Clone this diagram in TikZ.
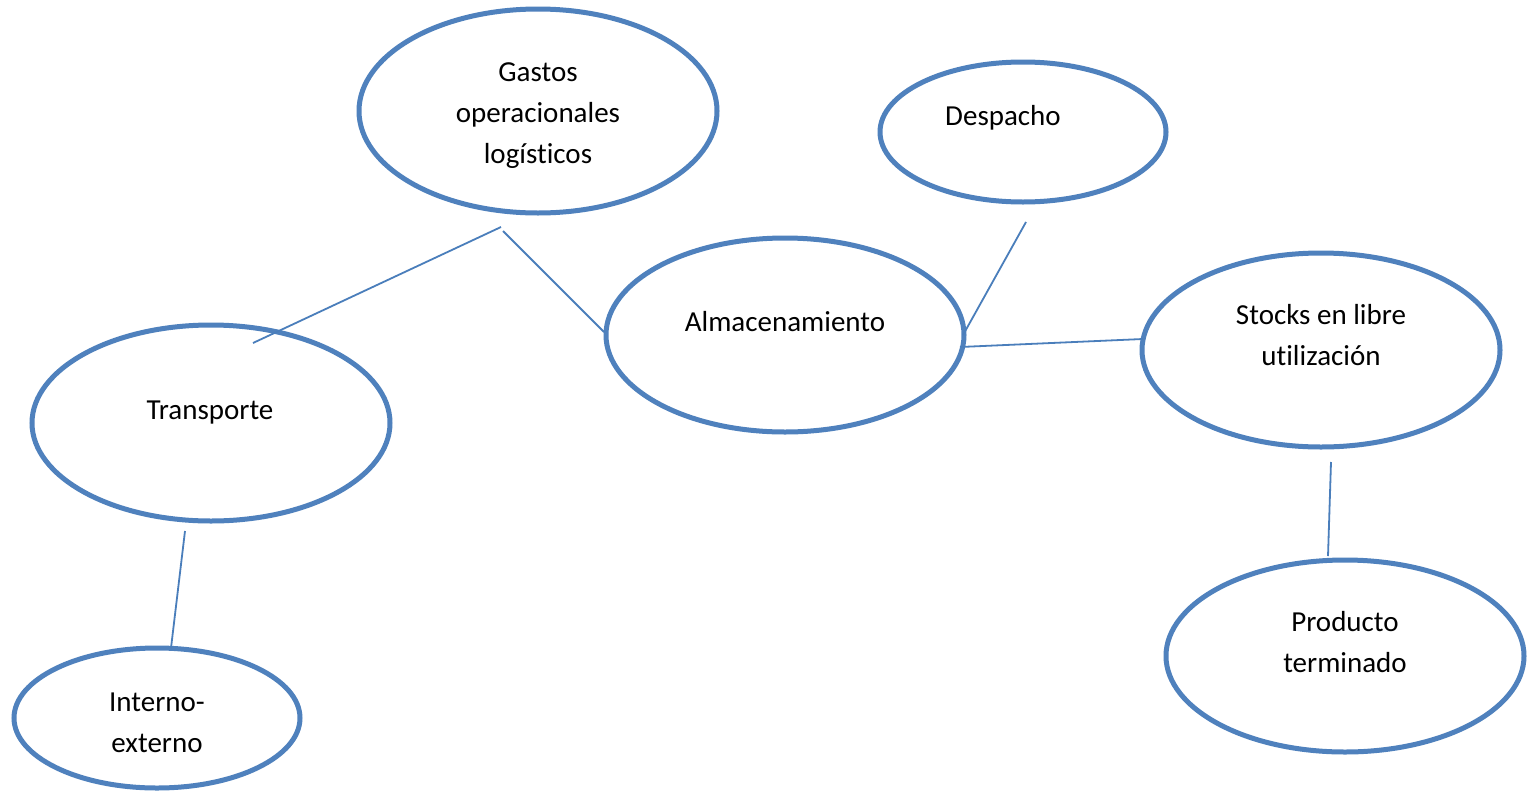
\documentclass[tikz,border=0pt]{standalone}
\usepackage{fontspec}
\setmainfont[Ligatures=NoCommon]{Carlito}
\usetikzlibrary{shapes.geometric}
\definecolor{ovalblue}{HTML}{4F81BD}
\definecolor{linkblue}{HTML}{4A7EBB}
\begin{document}
\begin{tikzpicture}[x=1pt,y=-1pt,
  oval/.style={ellipse,draw=ovalblue,line width=5pt,inner sep=0pt,fill=white},
  label/.style={align=center,inner sep=0pt,font=\fontsize{29}{41}\selectfont},
  link/.style={draw=linkblue,line width=1.8pt}]
\useasboundingbox (0,0) rectangle (1528,790);
\fill[white] (0,0) rectangle (1528,790);

% ovals
\node[oval,minimum width=358pt,minimum height=204pt] (gastos) at (538,111) {};
\node[oval,minimum width=286pt,minimum height=140pt] (despacho) at (1023,132) {};
\node[oval,minimum width=358pt,minimum height=194pt] (almac) at (785,335) {};
\node[oval,minimum width=358pt,minimum height=194pt] (stocks) at (1321,350) {};
\node[oval,minimum width=358pt,minimum height=196pt] (transp) at (211,423) {};
\node[oval,minimum width=358pt,minimum height=192pt] (producto) at (1345,656) {};
\node[oval,minimum width=286pt,minimum height=140pt] (interno) at (157,718) {};

% labels
\node[label] (tgastos) at (538,116) {Gastos\\operacionales\\logísticos};
\node[label] (tdespacho) at (1003,118) {Despacho};
\node[label] (talmac) at (785,322) {Almacenamiento};
\node[label] (tstocks) at (1321,335) {Stocks en libre\\utilización};
\node[label] (ttransp) at (210,413) {Transporte};
\node[label] (tproducto) at (1345,642) {Producto\\terminado};
\node[label] (tinterno) at (157,723) {Interno-\\externo};

% free ends of the connectors
\coordinate (c1a) at (253,343);
\coordinate (c1b) at (501,227);
\coordinate (c2a) at (503,231);
\coordinate (c2b) at (604,332);
\coordinate (c3a) at (1026,222);
\coordinate (c3b) at (963,335);
\coordinate (c4a) at (960,347);
\coordinate (c4b) at (1143,339);
\coordinate (c5a) at (1331,462);
\coordinate (c5b) at (1328,556);
\coordinate (c6a) at (185,531);
\coordinate (c6b) at (171,648);

% connectors
\draw[link] (c1a) -- (c1b);
\draw[link] (c2a) -- (c2b);
\draw[link] (c3a) -- (c3b);
\draw[link] (c4a) -- (c4b);
\draw[link] (c5a) -- (c5b);
\draw[link] (c6a) -- (c6b);
\end{tikzpicture}
\end{document}
